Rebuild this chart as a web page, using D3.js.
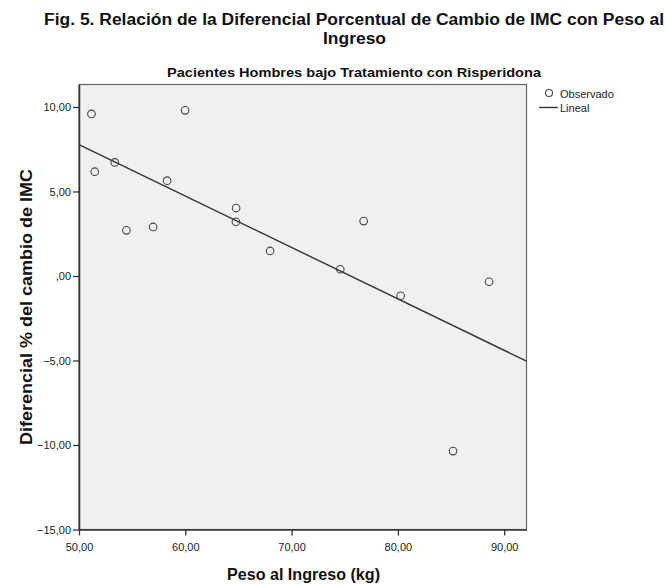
<!DOCTYPE html>
<html>
<head>
<meta charset="utf-8">
<script src="https://cdn.jsdelivr.net/npm/d3@7"></script>
<style>
  html, body { margin: 0; padding: 0; background: #fff; }
  svg { display: block; font-family: "Liberation Sans", Arial, sans-serif; }
</style>
</head>
<body>
<svg id="chart" width="667" height="587"></svg>
<script>
// ---- data ----
const pesoIngreso = [51.17, 51.48, 53.36, 54.46, 56.97, 58.29, 59.98, 64.78, 64.76, 67.98, 76.78, 74.58, 80.26, 88.58, 85.19];
const difCambioIMC = [9.59, 6.17, 6.72, 2.70, 2.90, 5.64, 9.80, 4.02, 3.21, 1.48, 3.25, 0.40, -1.17, -0.34, -10.36];
const xTicks = [50, 60, 70, 80, 90];
const yTicks = [-15, -10, -5, 0, 5, 10];
const xDomain = [50, 92.1];
const yDomain = [-15, 11.33];
const titleLines = ["Fig. 5. Relación de la Diferencial Porcentual de Cambio de IMC con Peso al", "Ingreso"];
const subtitle = "Pacientes Hombres bajo Tratamiento con Risperidona";
const xLabel = "Peso al Ingreso (kg)";
const yLabel = "Diferencial % del cambio de IMC";
const legendLabels = ["Observado", "Lineal"];

// ---- layout ----
const svg = d3.select("#chart");
const plot = { left: 79, top: 84.5, right: 526.5, bottom: 529.5 };
const x = d3.scaleLinear().domain(xDomain).range([plot.left, plot.right]);
const y = d3.scaleLinear().domain(yDomain).range([plot.bottom, plot.top]);
const fmt = v => (v === 0 ? ",00" : d3.format(".2f")(v).replace(".", ","));

// titles
svg.append("text").attr("x", 44).attr("y", 25)
  .attr("font-size", 16).attr("font-weight", "bold").attr("fill", "#111")
  .attr("textLength", 620).attr("lengthAdjust", "spacingAndGlyphs")
  .text(titleLines[0]);
svg.append("text").attr("x", 323).attr("y", 44)
  .attr("font-size", 16).attr("font-weight", "bold").attr("fill", "#111")
  .attr("textLength", 63).attr("lengthAdjust", "spacingAndGlyphs")
  .text(titleLines[1]);
svg.append("text").attr("x", 167).attr("y", 76.5)
  .attr("font-size", 13).attr("font-weight", "bold").attr("fill", "#111")
  .attr("textLength", 374).attr("lengthAdjust", "spacingAndGlyphs")
  .text(subtitle);

// plot background
svg.append("rect")
  .attr("x", plot.left).attr("y", plot.top)
  .attr("width", plot.right - plot.left).attr("height", plot.bottom - plot.top)
  .attr("fill", "#f0f0f0").attr("stroke", "#666").attr("stroke-width", 1.2);

// axes
const xAxis = d3.axisBottom(x).tickValues(xTicks).tickFormat(fmt).tickSize(6).tickSizeOuter(0);
const yAxis = d3.axisLeft(y).tickValues(yTicks).tickFormat(fmt).tickSize(6).tickSizeOuter(0);

const gx = svg.append("g").attr("transform", `translate(0,${plot.bottom})`).call(xAxis);
const gy = svg.append("g").attr("transform", `translate(${plot.left},0)`).call(yAxis);
[gx, gy].forEach(g => {
  g.select(".domain").attr("stroke", "#333").attr("stroke-width", 1.5);
  g.selectAll(".tick line").attr("stroke", "#333").attr("stroke-width", 1.3);
  g.selectAll(".tick text").attr("font-size", 11).attr("fill", "#222")
    .attr("font-family", "\"Liberation Sans\", Arial, sans-serif");
});
gx.selectAll(".tick text").attr("dy", null).attr("y", 21.5);
gy.selectAll(".tick text").attr("x", -8);

// axis titles
svg.append("text").attr("x", 227).attr("y", 580)
  .attr("font-size", 16).attr("font-weight", "bold").attr("fill", "#111")
  .attr("textLength", 153).attr("lengthAdjust", "spacingAndGlyphs")
  .text(xLabel);
svg.append("text")
  .attr("transform", "translate(32,445) rotate(-90)")
  .attr("font-size", 17).attr("font-weight", "bold").attr("fill", "#111")
  .attr("textLength", 276).attr("lengthAdjust", "spacingAndGlyphs")
  .text(yLabel);

// linear fit (least squares from the data)
const mx = d3.mean(pesoIngreso), my = d3.mean(difCambioIMC);
let sxy = 0, sxx = 0;
pesoIngreso.forEach((v, i) => { sxy += (v - mx) * (difCambioIMC[i] - my); sxx += (v - mx) * (v - mx); });
const slope = sxy / sxx, intercept = my - slope * mx;
const fitLine = d3.line().x(d => x(d)).y(d => y(intercept + slope * d));
svg.append("path").datum(xDomain)
  .attr("d", fitLine).attr("fill", "none")
  .attr("stroke", "#333").attr("stroke-width", 1.4);

// points
svg.append("g").selectAll("circle")
  .data(pesoIngreso.map((v, i) => [v, difCambioIMC[i]]))
  .join("circle")
  .attr("cx", d => x(d[0])).attr("cy", d => y(d[1])).attr("r", 3.8)
  .attr("fill", "none").attr("stroke", "#444").attr("stroke-width", 1.1);

// legend
const lg = svg.append("g");
lg.append("circle").attr("cx", 549).attr("cy", 93).attr("r", 3.5)
  .attr("fill", "none").attr("stroke", "#444").attr("stroke-width", 1.1);
lg.append("text").attr("x", 560).attr("y", 97.5).attr("font-size", 11).attr("fill", "#222").text(legendLabels[0]);
lg.append("line").attr("x1", 539).attr("x2", 558).attr("y1", 107.5).attr("y2", 107.5)
  .attr("stroke", "#333").attr("stroke-width", 1.4);
lg.append("text").attr("x", 560).attr("y", 112).attr("font-size", 11).attr("fill", "#222").text(legendLabels[1]);
</script>
</body>
</html>
